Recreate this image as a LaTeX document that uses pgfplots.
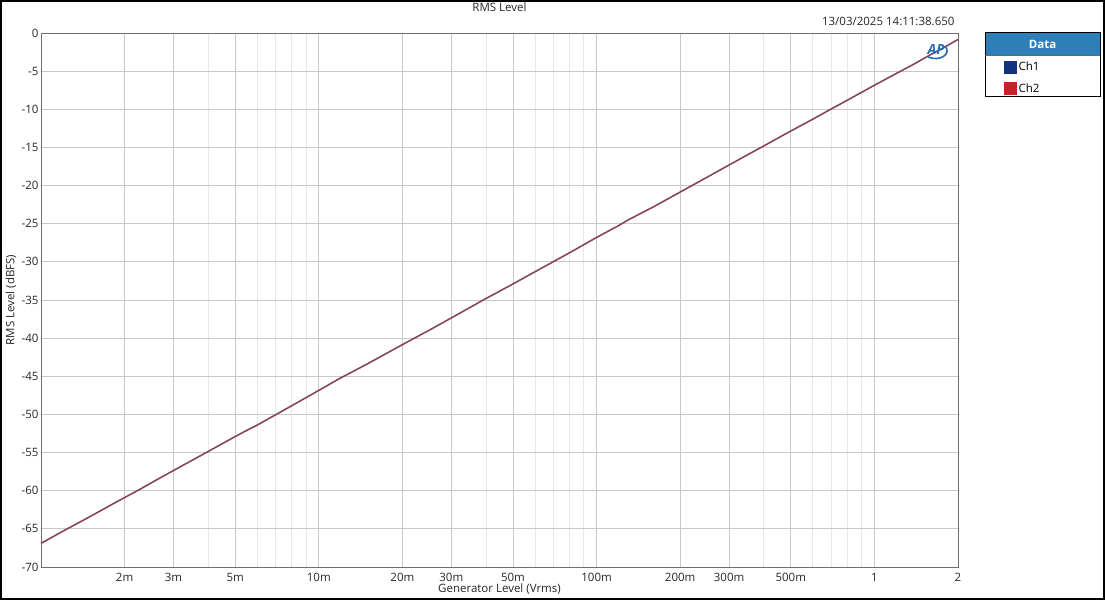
\documentclass[border=0pt]{standalone}
\usepackage{pgfplots}
\pgfplotsset{compat=1.18}
\usepackage{fontspec}
\setmainfont{Open Sans}
\definecolor{gridmaj}{RGB}{200,200,200}
\definecolor{gridmin}{RGB}{232,232,232}
\definecolor{axiscol}{RGB}{110,110,110}
\definecolor{linecol}{RGB}{135,70,95}
\definecolor{chone}{RGB}{20,50,125}
\definecolor{chtwo}{RGB}{200,32,40}
\definecolor{hdrblue}{RGB}{46,126,184}
\definecolor{apblue}{RGB}{40,110,180}
\begin{document}
\begin{tikzpicture}[x=1pt,y=1pt]
\useasboundingbox (0,0) rectangle (1105,600);
\draw[black, line width=2pt] (1,1) rectangle (1104,599);
\begin{axis}[
  at={(41pt,33pt)}, anchor=south west,
  scale only axis, width=917pt, height=534pt,
  xmode=log, xmin=0.001, xmax=2, ymin=-70, ymax=0,
  ytick={-70,-65,...,0},
  xtick={0.002,0.003,0.005,0.01,0.02,0.03,0.05,0.1,0.2,0.3,0.5,1,2},
  xticklabels={2m,3m,5m,10m,20m,30m,50m,100m,200m,300m,500m,1,2},
  minor xtick={0.004,0.006,0.007,0.008,0.009,0.04,0.06,0.07,0.08,0.09,0.4,0.6,0.7,0.8,0.9},
  grid=both,
  major grid style={color=gridmaj, line width=0.8pt},
  minor grid style={color=gridmin, line width=0.8pt},
  axis line style={color=axiscol, line width=0.9pt},
  tick style={draw=none},
  /pgf/number format/assume math mode=true,
  ticklabel style={font=\fontsize{11.5}{13}\selectfont, text=black!85},
  yticklabel style={xshift=1pt},
  xticklabel style={yshift=-3pt},
  clip=true,
  legend style={at={(axis description cs:1.0502,0.9494)}, anchor=north west,
    draw=none, fill=none, font=\fontsize{11.5}{13}\selectfont,
    row sep=7pt, inner sep=0pt, nodes={inner sep=2pt}},
  legend cell align=left,
]
\addplot[linecol, line width=1.3pt, forget plot] coordinates {
(0.001,-66.9) (0.0012,-65.3) (0.0015,-63.4) (0.0018,-61.8) (0.002,-60.9)
(0.0023,-59.7) (0.0026,-58.6) (0.003,-57.35) (0.004,-54.85) (0.005,-52.9)
(0.0055,-52.1) (0.006,-51.4) (0.008,-48.85) (0.01,-46.85) (0.012,-45.2)
(0.013,-44.55) (0.015,-43.35) (0.02,-40.85) (0.025,-38.95) (0.03,-37.35)
(0.04,-34.8) (0.05,-32.9) (0.06,-31.3) (0.08,-28.8) (0.1,-26.8)
(0.12,-25.25) (0.13,-24.5) (0.16,-22.8) (0.2,-20.85) (0.25,-18.9)
(0.3,-17.3) (0.35,-15.95) (0.4,-14.8) (0.5,-12.85) (0.6,-11.3)
(0.7,-9.95) (0.8,-8.8) (1,-6.85) (1.2,-5.3) (1.4,-4.0)
(1.6,-2.8) (1.8,-1.8) (2,-0.85)
};
\addplot[linecol, line width=1.3pt, forget plot] coordinates {
(0.001,-66.9) (0.0012,-65.3) (0.0015,-63.4) (0.0018,-61.8) (0.002,-60.9)
(0.0023,-59.7) (0.0026,-58.6) (0.003,-57.35) (0.004,-54.85) (0.005,-52.9)
(0.0055,-52.1) (0.006,-51.4) (0.008,-48.85) (0.01,-46.85) (0.012,-45.2)
(0.013,-44.55) (0.015,-43.35) (0.02,-40.85) (0.025,-38.95) (0.03,-37.35)
(0.04,-34.8) (0.05,-32.9) (0.06,-31.3) (0.08,-28.8) (0.1,-26.8)
(0.12,-25.25) (0.13,-24.5) (0.16,-22.8) (0.2,-20.85) (0.25,-18.9)
(0.3,-17.3) (0.35,-15.95) (0.4,-14.8) (0.5,-12.85) (0.6,-11.3)
(0.7,-9.95) (0.8,-8.8) (1,-6.85) (1.2,-5.3) (1.4,-4.0)
(1.6,-2.8) (1.8,-1.8) (2,-0.85)
};
\addlegendimage{legend image code/.code={\fill[chone] (0pt,-6pt) rectangle (12pt,6pt);}}
\addlegendentry{Ch1}
\addlegendimage{legend image code/.code={\fill[chtwo] (0pt,-6pt) rectangle (12pt,6pt);}}
\addlegendentry{Ch2}
\end{axis}
% title, timestamp, axis labels
\node[font=\fontsize{11.5}{13}\selectfont, text=black!85] at (499.5,593) {RMS Level};
\node[font=\fontsize{11.5}{13}\selectfont, text=black!85, anchor=east] at (958,579) {13/03/2025 14:11:38.650};
\node[font=\fontsize{11.5}{13}\selectfont, text=black!85] at (499.5,11) {Generator Level (Vrms)};
\node[font=\fontsize{11.5}{13}\selectfont, text=black!85, rotate=90] at (11,300) {RMS Level (dBFS)};
% AP logo
\draw[apblue, line width=1.6pt] (928,543) .. controls (940,538) and (952,546) .. (945,554);
\node[font=\bfseries\itshape\fontsize{14}{14}\selectfont, text=apblue, inner sep=0pt] at (936,551) {AP};
% legend frame and header
\fill[hdrblue] (985,545) rectangle (1100,567);
\node[font=\bfseries\fontsize{11.5}{13}\selectfont, text=white] at (1042.5,556) {Data};
\draw[black, line width=1pt] (985,503) rectangle (1100,567);
\draw[black!60, line width=0.6pt] (985,545) -- (1100,545);
\end{tikzpicture}
\end{document}
